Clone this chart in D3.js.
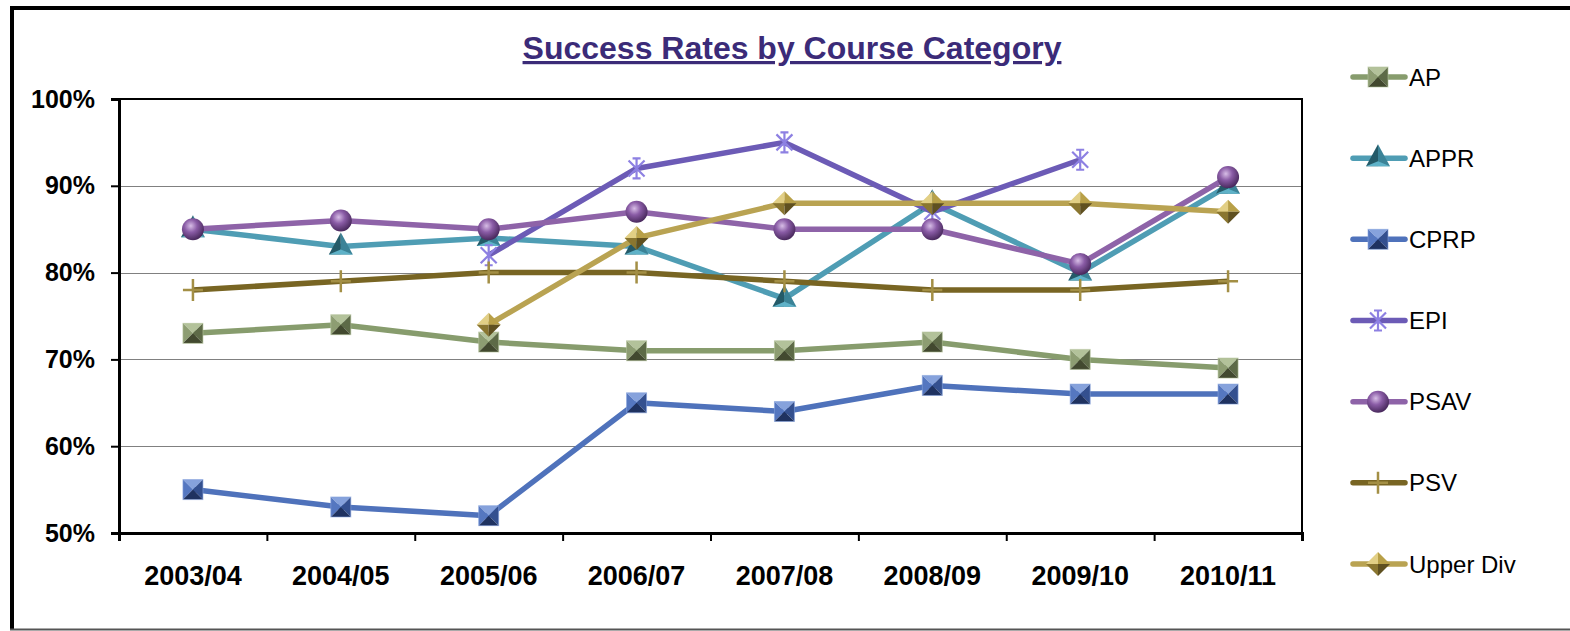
<!DOCTYPE html>
<html>
<head>
<meta charset="utf-8">
<script src="https://cdn.jsdelivr.net/npm/d3@7"></script>
<style>
  body { margin: 0; background: #fff; }
  svg { display: block; font-family: "Liberation Sans", Arial, sans-serif; }
</style>
</head>
<body>
<script>
// chart data
var years = ["2003/04", "2004/05", "2005/06", "2006/07", "2007/08", "2008/09", "2009/10", "2010/11"];
var yTicks = [0.5, 0.6, 0.7, 0.8, 0.9, 1.0];

var AP       = [0.73, 0.74, 0.72, 0.71, 0.71, 0.72, 0.70, 0.69];
var APPR     = [0.85, 0.83, 0.84, 0.83, 0.77, 0.88, 0.80, 0.90];
var CPRP     = [0.55, 0.53, 0.52, 0.65, 0.64, 0.67, 0.66, 0.66];
var EPI      = [null, null, 0.82, 0.92, 0.95, 0.87, 0.93, null];
var PSAV     = [0.85, 0.86, 0.85, 0.87, 0.85, 0.85, 0.81, 0.91];
var PSV      = [0.78, 0.79, 0.80, 0.80, 0.79, 0.78, 0.78, 0.79];
var UpperDiv = [null, null, 0.74, 0.84, 0.88, 0.88, 0.88, 0.87];

var series = [
    {name: "AP",        values: AP,       color: "#879c6d", marker: "square", shades: ["#b3c29a", "#8d9d72", "#5d6a47", "#42492f"]},
    {name: "APPR",      values: APPR,     color: "#4f9db4", marker: "triangle", shades: ["#245a68", "#5fb2c8", "#3b8397"]},
    {name: "CPRP",      values: CPRP,     color: "#4f72bb", marker: "square", shades: ["#86a2dc", "#5577c0", "#34508f", "#1f3260"]},
    {name: "EPI",       values: EPI,      color: "#6c5bb6", marker: "star", shades: ["#8d80e2"]},
    {name: "PSAV",      values: PSAV,     color: "#8e63a8", marker: "circle", shades: ["#d7bde6", "#8a5ca6", "#4a2a5e"]},
    {name: "PSV",       values: PSV,      color: "#786523", marker: "plus", shades: ["#a38f45"]},
    {name: "Upper Div", values: UpperDiv, color: "#b9a352", marker: "diamond", shades: ["#e2cf85", "#b8a048", "#8a7630", "#5f5020"]}
];

var W = 1570, H = 631;
var plot = {left: 119, right: 1302, top: 99, bottom: 533};

var svg = d3.select("body").append("svg")
    .attr("width", W)
    .attr("height", H);

// radial gradient for the sphere markers
var defs = svg.append("defs");
series.forEach(function(s, i) {
    if (s.marker != "circle") return;
    var g = defs.append("radialGradient").attr("id", "ball" + i)
        .attr("cx", "40%").attr("cy", "35%").attr("r", "65%");
    g.append("stop").attr("offset", "0%").attr("stop-color", s.shades[0]);
    g.append("stop").attr("offset", "45%").attr("stop-color", s.shades[1]);
    g.append("stop").attr("offset", "100%").attr("stop-color", s.shades[2]);
});

// outer frame
svg.append("line").attr("x1", 12).attr("y1", 6).attr("x2", 12).attr("y2", 629)
    .attr("stroke", "#000").attr("stroke-width", 4);
svg.append("line").attr("x1", 10).attr("y1", 8).attr("x2", W).attr("y2", 8)
    .attr("stroke", "#000").attr("stroke-width", 4);
svg.append("line").attr("x1", 10).attr("y1", 629.5).attr("x2", W).attr("y2", 629.5)
    .attr("stroke", "#555").attr("stroke-width", 2);

// title
svg.append("text")
    .attr("x", 792).attr("y", 59)
    .attr("text-anchor", "middle")
    .attr("font-size", 32).attr("font-weight", "bold")
    .attr("fill", "#3b2b78")
    .style("text-decoration", "underline")
    .text("Success Rates by Course Category");

// scales
var x = d3.scaleBand().domain(years).range([plot.left, plot.right]);
var xEdge = d3.scaleLinear().domain([0, years.length]).range([plot.left, plot.right]);
var y = d3.scaleLinear().domain([0.5, 1]).range([plot.bottom, plot.top]);
function cx(i) { return x(years[i]) + x.bandwidth() / 2; }

// gridlines
svg.append("g").selectAll("line")
    .data(yTicks.slice(1, -1))
    .enter().append("line")
    .attr("x1", plot.left).attr("x2", plot.right)
    .attr("y1", function(d) { return Math.round(y(d)) + 0.5; })
    .attr("y2", function(d) { return Math.round(y(d)) + 0.5; })
    .attr("stroke", "#808080").attr("stroke-width", 1.2);

// plot border (top/right)
svg.append("path")
    .attr("d", "M" + plot.left + "," + plot.top + "H" + plot.right + "V" + plot.bottom)
    .attr("fill", "none").attr("stroke", "#000").attr("stroke-width", 2);

// y axis
var yAxis = svg.append("g")
    .attr("transform", "translate(" + plot.left + ",0)")
    .call(d3.axisLeft(y).tickValues(yTicks).tickFormat(d3.format(".0%")).tickSize(8).tickPadding(16));
yAxis.select(".domain").attr("stroke-width", 3);
yAxis.selectAll(".tick line").attr("stroke-width", 2);
yAxis.selectAll("text").attr("font-size", 25).attr("font-weight", "bold").attr("fill", "#000")
    .attr("font-family", "Liberation Sans, Arial, sans-serif");

// x axis: tick marks at category edges
var xTicks = svg.append("g")
    .attr("transform", "translate(0," + plot.bottom + ")")
    .call(d3.axisBottom(xEdge).tickValues(d3.range(years.length + 1)).tickFormat("").tickSize(8));
xTicks.select(".domain").attr("stroke-width", 3);
xTicks.selectAll(".tick line").attr("stroke-width", 2);

// x axis labels
var xLabels = svg.append("g")
    .attr("transform", "translate(0," + plot.bottom + ")")
    .call(d3.axisBottom(x).tickSize(0).tickPadding(33));
xLabels.select(".domain").remove();
xLabels.selectAll("text").attr("font-size", 27).attr("font-weight", "bold").attr("fill", "#000")
    .attr("font-family", "Liberation Sans, Arial, sans-serif");

// marker drawing
function drawMarker(g, s, idx) {
    var c = s.shades;
    if (s.marker == "square") {
        var r = 10;
        g.append("polygon").attr("points", [[-r,-r],[r,-r],[0,0]].join(" ")).attr("fill", c[0]);
        g.append("polygon").attr("points", [[-r,-r],[-r,r],[0,0]].join(" ")).attr("fill", c[1]);
        g.append("polygon").attr("points", [[r,-r],[r,r],[0,0]].join(" ")).attr("fill", c[2]);
        g.append("polygon").attr("points", [[-r,r],[r,r],[0,0]].join(" ")).attr("fill", c[3]);
        g.append("rect").attr("x", -r).attr("y", -r).attr("width", 2*r).attr("height", 2*r)
            .attr("fill", "none").attr("stroke", c[0]).attr("stroke-opacity", 0.6).attr("stroke-width", 1);
    } else if (s.marker == "triangle") {
        g.append("polygon").attr("points", [[0,-14],[-12,8],[0,8]].join(" ")).attr("fill", c[0]);
        g.append("polygon").attr("points", [[0,-14],[12,8],[0,8]].join(" ")).attr("fill", c[2]);
        g.append("polygon").attr("points", [[-12,8],[12,8],[0,3]].join(" ")).attr("fill", c[1]);
    } else if (s.marker == "diamond") {
        var d = 12;
        g.append("polygon").attr("points", [[0,-d],[-d,0],[0,0]].join(" ")).attr("fill", c[0]);
        g.append("polygon").attr("points", [[0,-d],[d,0],[0,0]].join(" ")).attr("fill", c[1]);
        g.append("polygon").attr("points", [[0,d],[-d,0],[0,0]].join(" ")).attr("fill", c[2]);
        g.append("polygon").attr("points", [[0,d],[d,0],[0,0]].join(" ")).attr("fill", c[3]);
    } else if (s.marker == "circle") {
        g.append("circle").attr("r", 11).attr("fill", "url(#ball" + idx + ")");
    } else if (s.marker == "star") {
        var a = 10;
        g.append("path")
            .attr("d", "M0,-" + a + "V" + a + "M-" + a*0.8 + ",-" + a*0.8 + "L" + a*0.8 + "," + a*0.8 +
                       "M" + a*0.8 + ",-" + a*0.8 + "L-" + a*0.8 + "," + a*0.8 +
                       "M-4,-" + a + "H4M-4," + a + "H4")
            .attr("stroke", c[0]).attr("stroke-width", 2.2).attr("fill", "none");
    } else if (s.marker == "plus") {
        g.append("path").attr("d", "M0,-11V11M-10,0H10")
            .attr("stroke", c[0]).attr("stroke-width", 2.5).attr("fill", "none");
    }
}

// lines and markers, one series at a time
var line = d3.line()
    .defined(function(d) { return d != null; })
    .x(function(d, i) { return cx(i); })
    .y(function(d) { return y(d); });

series.forEach(function(s, si) {
    svg.append("path")
        .datum(s.values)
        .attr("fill", "none")
        .attr("stroke", s.color)
        .attr("stroke-width", 5.5)
        .attr("stroke-linejoin", "round")
        .attr("d", line);

    s.values.forEach(function(v, i) {
        if (v == null) return;
        var g = svg.append("g").attr("transform", "translate(" + cx(i) + "," + y(v) + ")");
        drawMarker(g, s, si);
    });
});

// legend
var legendY = d3.scaleLinear().domain([0, series.length - 1]).range([77, 564]);
series.forEach(function(s, si) {
    var ly = legendY(si);
    var g = svg.append("g").attr("transform", "translate(0," + ly + ")");
    g.append("line").attr("x1", 1353).attr("x2", 1405).attr("y1", 0).attr("y2", 0)
        .attr("stroke", s.color).attr("stroke-width", 5.5).attr("stroke-linecap", "round");
    var m = g.append("g").attr("transform", "translate(1378,0)");
    drawMarker(m, s, si);
    g.append("text").attr("x", 1409).attr("y", 0).attr("dy", "0.36em")
        .attr("font-size", 24).attr("fill", "#000")
        .text(s.name);
});
</script>
</body>
</html>
